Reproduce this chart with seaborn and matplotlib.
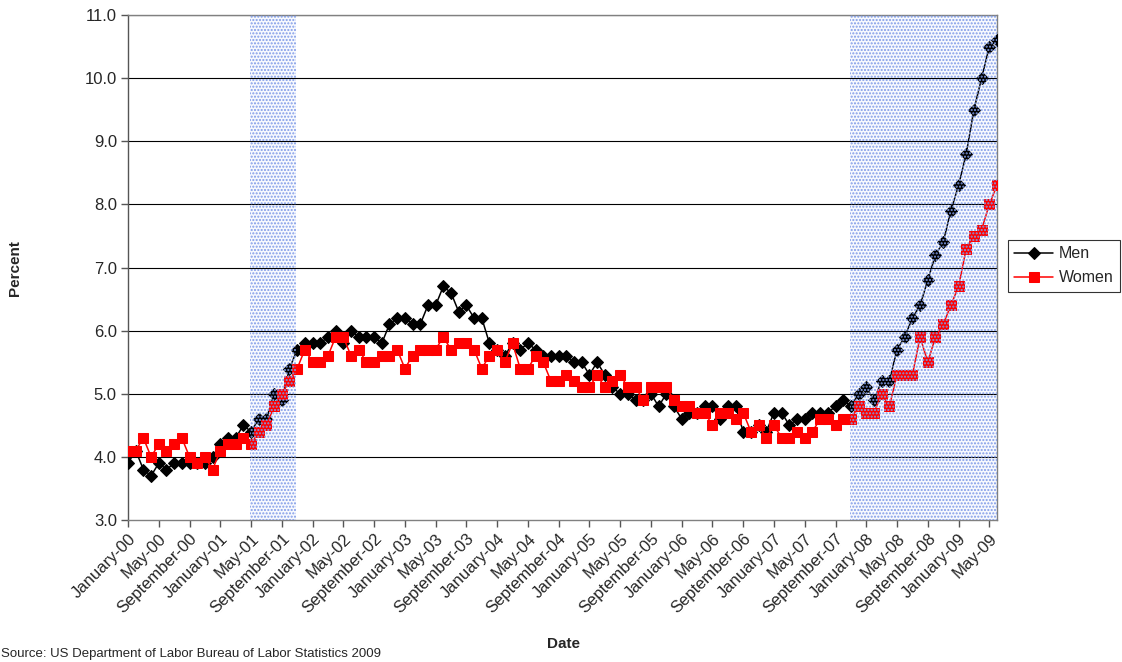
import matplotlib
matplotlib.use("Agg")
import matplotlib.pyplot as plt
import seaborn as sns
import pandas as pd
import numpy as np

# ---- data (Jan 2000 .. Jun 2009, monthly) ----
men = [3.9, 4.1, 3.8, 3.7, 3.9, 3.8, 3.9, 3.9, 3.9, 3.9, 3.9, 4.0,
       4.2, 4.3, 4.3, 4.5, 4.4, 4.6, 4.6, 5.0, 4.9, 5.4, 5.7, 5.8,
       5.8, 5.8, 5.9, 6.0, 5.8, 6.0, 5.9, 5.9, 5.9, 5.8, 6.1, 6.2,
       6.2, 6.1, 6.1, 6.4, 6.4, 6.7, 6.6, 6.3, 6.4, 6.2, 6.2, 5.8,
       5.7, 5.6, 5.8, 5.7, 5.8, 5.7, 5.6, 5.6, 5.6, 5.6, 5.5, 5.5,
       5.3, 5.5, 5.3, 5.1, 5.0, 5.0, 4.9, 4.9, 5.0, 4.8, 5.0, 4.8,
       4.6, 4.7, 4.7, 4.8, 4.8, 4.6, 4.8, 4.8, 4.4, 4.4, 4.5, 4.4,
       4.7, 4.7, 4.5, 4.6, 4.6, 4.7, 4.7, 4.7, 4.8, 4.9, 4.8, 5.0,
       5.1, 4.9, 5.2, 5.2, 5.7, 5.9, 6.2, 6.4, 6.8, 7.2, 7.4, 7.9,
       8.3, 8.8, 9.5, 10.0, 10.5, 10.6]
women = [4.1, 4.1, 4.3, 4.0, 4.2, 4.1, 4.2, 4.3, 4.0, 3.9, 4.0, 3.8,
         4.1, 4.2, 4.2, 4.3, 4.2, 4.4, 4.5, 4.8, 5.0, 5.2, 5.4, 5.7,
         5.5, 5.5, 5.6, 5.9, 5.9, 5.6, 5.7, 5.5, 5.5, 5.6, 5.6, 5.7,
         5.4, 5.6, 5.7, 5.7, 5.7, 5.9, 5.7, 5.8, 5.8, 5.7, 5.4, 5.6,
         5.7, 5.5, 5.8, 5.4, 5.4, 5.6, 5.5, 5.2, 5.2, 5.3, 5.2, 5.1,
         5.1, 5.3, 5.1, 5.2, 5.3, 5.1, 5.1, 4.9, 5.1, 5.1, 5.1, 4.9,
         4.8, 4.8, 4.7, 4.7, 4.5, 4.7, 4.7, 4.6, 4.7, 4.4, 4.5, 4.3,
         4.5, 4.3, 4.3, 4.4, 4.3, 4.4, 4.6, 4.6, 4.5, 4.6, 4.6, 4.8,
         4.7, 4.7, 5.0, 4.8, 5.3, 5.3, 5.3, 5.9, 5.5, 5.9, 6.1, 6.4,
         6.7, 7.3, 7.5, 7.6, 8.0, 8.3]
month_names = ["January", "February", "March", "April", "May", "June", "July",
               "August", "September", "October", "November", "December"]
years = ["00", "01", "02", "03", "04", "05", "06", "07", "08", "09"]
dates = [f"{m}-{y}" for y in years for m in month_names][:len(men)]
tick_labels = dates[::4]
recessions = [(15.8, 21.9), (93.9, 113.0)]
source = "Source: US Department of Labor Bureau of Labor Statistics 2009"

df = pd.DataFrame({"idx": np.arange(len(men)), "Men": men, "Women": women})

sns.set_style("white")
plt.rcParams["font.family"] = ["Liberation Sans", "DejaVu Sans"]
plt.rcParams["hatch.linewidth"] = 1.0

fig = plt.figure(figsize=(11.22, 6.62), dpi=100)
ax = fig.add_axes([128 / 1122, 1 - 520 / 662, (997 - 128) / 1122, (520 - 15) / 662])

for y in range(4, 12):
    ax.axhline(y, color="black", lw=0.8, zorder=1)

sns.lineplot(data=df, x="idx", y="Men", ax=ax, color="black", lw=1.1,
             marker="D", markersize=6, markeredgecolor="black", label="Men", zorder=4)
sns.lineplot(data=df, x="idx", y="Women", ax=ax, color="#ff0000", lw=1.1,
             marker="s", markersize=6.5, markeredgecolor="#ff0000", label="Women", zorder=5)

for a, b in recessions:
    ax.axvspan(a, b, facecolor="#f7f9fe", edgecolor="none", zorder=0.5)
    ax.axvspan(a, b, facecolor="none", edgecolor="#7f9be8", hatch=".....",
               linewidth=0, zorder=6)

ax.set_xlim(0, 113)
ax.set_ylim(3, 11)
ax.set_yticks(range(3, 12))
ax.set_yticklabels([f"{v:.1f}" for v in range(3, 12)], fontsize=12)
ax.set_xticks(df["idx"][::4])
ax.set_xticklabels(tick_labels, rotation=45, ha="right", rotation_mode="anchor",
                   fontsize=12)
ax.tick_params(axis="both", direction="out", length=5, width=1, color="#555555",
               bottom=True, left=True, pad=3)
for s in ax.spines.values():
    s.set_color("#808080")
    s.set_linewidth(1)
ax.spines["left"].set_color("#555555")

ax.set_xlabel("")
ax.set_ylabel("")
fig.text(15 / 1122, 1 - 268 / 662, "Percent", rotation=90, fontsize=11,
         fontweight="bold", ha="center", va="center")
fig.text(563 / 1122, 1 - 644 / 662, "Date", fontsize=11, fontweight="bold",
         ha="center", va="center")
fig.text(1 / 1122, 1 - 654 / 662, source, fontsize=9.5, ha="left", va="center")

ax.get_legend().remove()
handles, labels = ax.get_legend_handles_labels()
leg = fig.legend(handles, labels, loc="upper left",
                 bbox_to_anchor=(1008 / 1122, 1 - 240 / 662), fontsize=11.5,
                 frameon=True, fancybox=False, edgecolor="black", borderpad=0.4,
                 handlelength=2.4, handletextpad=0.4, labelspacing=0.55,
                 borderaxespad=0)
leg.get_frame().set_linewidth(0.8)

fig.savefig("out.png", dpi=100)
